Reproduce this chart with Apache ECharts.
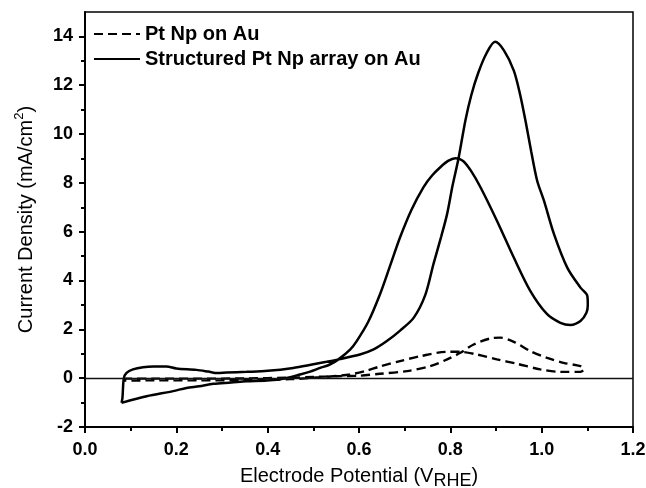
<!DOCTYPE html>
<html>
<head>
<meta charset="utf-8">
<script src="https://cdn.jsdelivr.net/npm/echarts@6/dist/echarts.min.js"></script>
<style>html,body{margin:0;padding:0;background:#fff;}#chart{width:646px;height:488px;}</style>
</head>
<body>
<div id="chart"></div>
<script>
// ---- Data ----
const seriesNames = ['Pt Np on Au', 'Structured Pt Np array on Au'];

// Structured Pt Np array on Au (cyclic voltammogram, closed loop)
const structPotential = [0.080,0.082,0.085,0.091,0.105,0.127,0.150,0.178,0.200,0.244,0.270,0.290,0.310,0.354,0.400,0.456,0.500,0.529,0.555,0.602,0.632,0.661,0.690,0.720,0.745,0.763,0.780,0.793,0.805,0.818,0.833,0.846,0.861,0.879,0.898,0.917,0.939,0.953,0.965,0.977,0.990,1.005,1.027,1.056,1.085,1.100,1.101,1.098,1.085,1.063,1.041,1.012,0.975,0.939,0.902,0.866,0.845,0.828,0.811,0.795,0.778,0.760,0.741,0.715,0.690,0.668,0.646,0.620,0.595,0.581,0.555,0.535,0.515,0.493,0.471,0.440,0.398,0.354,0.320,0.281,0.250,0.222,0.193,0.135,0.080];
const structCurrent   = [-1.01,-0.81,0.00,0.22,0.36,0.45,0.48,0.48,0.40,0.34,0.27,0.21,0.23,0.26,0.30,0.42,0.57,0.67,0.77,0.97,1.18,1.52,1.95,2.48,3.40,4.67,5.80,6.73,7.90,9.01,10.56,11.60,12.50,13.30,13.78,13.44,12.60,11.60,10.50,9.30,8.10,7.27,5.90,4.53,3.71,3.37,3.00,2.68,2.34,2.18,2.27,2.62,3.58,4.94,6.45,7.82,8.50,8.90,9.01,8.90,8.64,8.30,7.82,6.90,5.77,4.60,3.44,2.30,1.52,1.18,0.77,0.55,0.42,0.27,0.15,0.00,-0.10,-0.13,-0.18,-0.23,-0.33,-0.40,-0.53,-0.74,-1.01];

// Pt Np on Au (cyclic voltammogram, closed loop)
const ptPotential = [0.085,0.090,0.150,0.250,0.350,0.450,0.500,0.550,0.600,0.646,0.705,0.756,0.793,0.822,0.851,0.888,0.909,0.939,0.975,1.012,1.048,1.085,1.092,1.085,1.041,0.997,0.946,0.902,0.858,0.822,0.793,0.734,0.690,0.646,0.615,0.580,0.530,0.450,0.350,0.250,0.150,0.085];
const ptCurrent   = [-0.10,-0.02,-0.02,-0.02,-0.01,0.02,0.05,0.08,0.10,0.18,0.29,0.49,0.77,1.04,1.38,1.63,1.66,1.49,1.11,0.83,0.63,0.49,0.35,0.26,0.26,0.36,0.59,0.77,0.97,1.08,1.08,0.90,0.70,0.48,0.30,0.15,0.06,-0.04,-0.08,-0.09,-0.09,-0.10];

// Axis ticks
const xMajorTicks = [0.0,0.2,0.4,0.6,0.8,1.0,1.2];
const yMajorTicks = [-2,0,2,4,6,8,10,12,14];
const yMinorTicks = [-1,1,3,5,7,9,11,13];
const zeroLevel = [0];

function zip(a, b) { return a.map((v, i) => [v, b[i]]); }

const chart = echarts.init(document.getElementById('chart'), null, {renderer: 'canvas'});
const FONT = 'Liberation Sans';
const option = {
  animation: false,
  backgroundColor: '#fff',
  grid: {left: 85, right: 13, top: 12, bottom: 61, containLabel: false, outerBoundsMode: 'none',
    show: true, borderColor: '#000', borderWidth: 1.5},
  legend: {
    left: 93, top: 24, orient: 'vertical', padding: 0,
    itemWidth: 46, itemHeight: 14, itemGap: 5, itemTextGap: 7,
    data: seriesNames,
    itemStyle: {opacity: 0},
    textStyle: {fontFamily: FONT, fontWeight: 'bold', fontSize: 20, color: '#000'}
  },
  xAxis: {
    type: 'value', min: 0, max: 1.2, interval: 0.2,
    name: 'Electrode Potential (V{sub|RHE})',
    nameLocation: 'middle', nameGap: 31,
    nameTextStyle: {fontFamily: FONT, fontSize: 20, color: '#000', lineHeight: 26,
      rich: {sub: {fontFamily: FONT, fontSize: 18, lineHeight: 16, verticalAlign: 'bottom', color: '#000'}}},
    axisLine: {onZero: false, lineStyle: {color: '#000', width: 2}},
    axisTick: {inside: false, length: 6, customValues: xMajorTicks, lineStyle: {color: '#000', width: 2}},
    minorTick: {show: true, splitNumber: 2, length: 4, lineStyle: {color: '#000', width: 2}},
    splitLine: {show: false},
    axisLabel: {margin: 14, fontFamily: FONT, fontWeight: 'bold', fontSize: 18, color: '#000',
      customValues: xMajorTicks, formatter: v => v.toFixed(1)}
  },
  yAxis: [{
    type: 'value', min: -2, max: 15, interval: 1,
    name: 'Current Density (mA/cm{sup|2})',
    nameLocation: 'middle', nameGap: 46, nameRotate: 90,
    nameTextStyle: {fontFamily: FONT, fontSize: 20, color: '#000', lineHeight: 26,
      rich: {sup: {fontFamily: FONT, fontSize: 13, lineHeight: 13, verticalAlign: 'top', color: '#000'}}},
    axisLine: {lineStyle: {color: '#000', width: 2}},
    axisTick: {length: 6, customValues: yMajorTicks, lineStyle: {color: '#000', width: 2}},
    splitLine: {show: false},
    axisLabel: {margin: 12, customValues: yMajorTicks, fontFamily: FONT, fontWeight: 'bold', fontSize: 18, color: '#000'}
  }, {
    type: 'value', min: -2, max: 15, interval: 1, position: 'left',
    axisLine: {show: false},
    axisTick: {show: true, length: 4, customValues: yMinorTicks, lineStyle: {color: '#000', width: 2}},
    axisLabel: {show: false},
    splitLine: {show: false}
  }],
  series: [{
    name: seriesNames[0], type: 'line', symbol: 'none', smooth: 0.3,
    data: zip(ptPotential, ptCurrent),
    lineStyle: {color: '#000', width: 2.4, type: [9, 5]},
    itemStyle: {color: '#000'},
    markLine: {silent: true, symbol: 'none', label: {show: false},
      lineStyle: {color: '#111', width: 1.3, type: 'solid'},
      data: zeroLevel.map(v => ({yAxis: v}))},
    z: 3
  }, {
    name: seriesNames[1], type: 'line', symbol: 'none', smooth: 0.3,
    data: zip(structPotential, structCurrent),
    lineStyle: {color: '#000', width: 2.5, type: 'solid'},
    itemStyle: {color: '#000'},
    z: 4
  }]
};
chart.setOption(option);
</script>
</body>
</html>
